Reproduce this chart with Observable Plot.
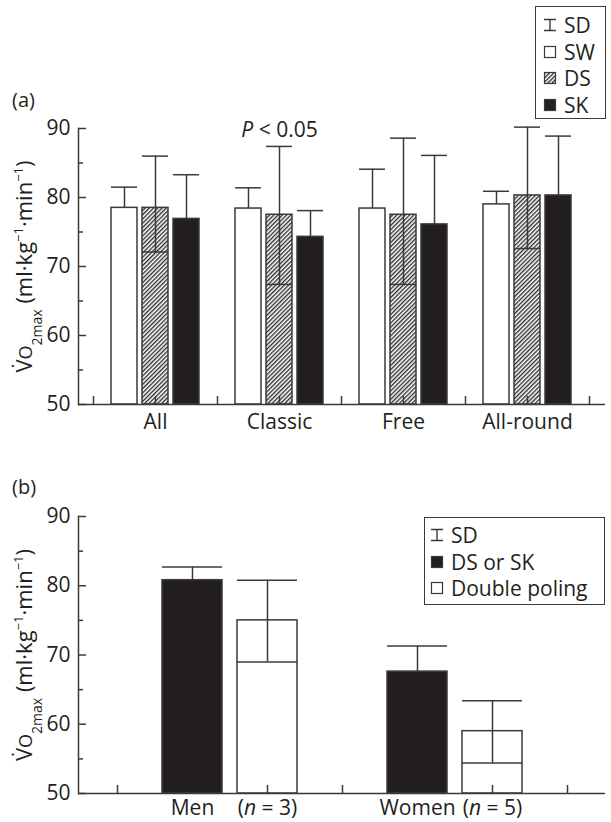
<!DOCTYPE html>
<html><head><meta charset="utf-8">
<script src="https://cdn.jsdelivr.net/npm/d3@7"></script>
<script src="https://cdn.jsdelivr.net/npm/@observablehq/plot@0.6"></script>
<style>
body{margin:0;background:#fff;}
#wrap{position:relative;width:611px;height:822px;font-family:"Open Sans",sans-serif;color:#231f20;}
.abs{position:absolute;}
.plabel{position:absolute;font-size:20px;line-height:24px;}
.legend{position:absolute;box-sizing:border-box;border:1.5px solid #3a3a3a;background:#fff;font-size:21px;}
.legend .item{position:absolute;left:0;display:flex;align-items:center;height:26px;line-height:26px;white-space:nowrap;}
.legend .sym{display:inline-block;width:16px;height:14px;margin-right:6px;}
</style></head><body>
<svg width="0" height="0" style="position:absolute">
  <defs>
    <pattern id="hatch" patternUnits="userSpaceOnUse" width="3" height="3" patternTransform="rotate(45)">
      <rect width="3" height="3" fill="#fff"/>
      <line x1="0.7" y1="0" x2="0.7" y2="3" stroke="#231f20" stroke-width="1.3"/>
    </pattern>
  </defs>
</svg>
<div id="wrap">
  <div id="chartA" class="abs" style="left:0;top:0"></div>
  <div id="chartB" class="abs" style="left:0;top:450px"></div>
  <div class="plabel" style="left:12px;top:88px">(a)</div>
  <div class="plabel" style="left:12px;top:475px">(b)</div>
  <div class="legend" id="legA" style="left:535px;top:6px;width:71px;height:113px"></div>
  <div class="legend" id="legB" style="left:424px;top:517px;width:181px;height:88px"></div>
</div>
<script>
// ---------- Data: panel (a) ----------
const groupsA = ["All", "Classic", "Free", "All-round"];
const seriesA = ["SW", "DS", "SK"];
const swMean  = [78.5, 78.4, 78.4, 79.0];
const swUpper = [81.5, 81.4, 84.1, 80.9];
const dsMean  = [78.5, 77.5, 77.5, 80.3];
const dsUpper = [86.0, 87.4, 88.6, 90.2];
const dsLower = [72.1, 67.4, 67.4, 72.6];
const skMean  = [76.9, 74.3, 76.1, 80.3];
const skUpper = [83.3, 78.1, 86.1, 88.9];
const yTicks = [50, 60, 70, 80, 90];
const yMinorTicks = [55, 65, 75, 85];
const annotA = [{group: "Classic", series: "DS", y: 90, text: "P < 0.05"}];

// ---------- Data: panel (b) ----------
const groupsB = ["Men", "Women"];
const seriesB = ["DS or SK", "Double poling"];
const nLabelsB = ["(n = 3)", "(n = 5)"];
const dsskMeanB  = [80.8, 67.6];
const dsskUpperB = [82.7, 71.3];
const dpMeanB  = [75.0, 59.0];
const dpUpperB = [80.8, 63.4];
const dpLowerB = [69.0, 54.4];

// ---------- build tables ----------
const key = (g, s) => g + "|" + s;
const meansA = {SW: swMean, DS: dsMean, SK: skMean};
const uppersA = {SW: swUpper, DS: dsUpper, SK: skUpper};
const lowersA = {DS: dsLower};
const rowsA = [];
groupsA.forEach((g, i) => seriesA.forEach(s => rowsA.push({
  group: g, series: s, key: key(g, s),
  mean: meansA[s][i], upper: uppersA[s][i], lower: lowersA[s] ? lowersA[s][i] : null
})));
const domainA = [];
groupsA.forEach((g, i) => { domainA.push("sep" + i); seriesA.forEach(s => domainA.push(key(g, s))); });
domainA.push("sep" + groupsA.length);
const centerKeysA = groupsA.map(g => key(g, seriesA[1]));
const sepKeysA = domainA.filter(k => k.startsWith("sep"));
const labelOfA = new Map(groupsA.map(g => [key(g, seriesA[1]), g]));

const rowsB = [];
groupsB.forEach((g, i) => {
  rowsB.push({group: g, series: seriesB[0], key: key(g, seriesB[0]), mean: dsskMeanB[i], upper: dsskUpperB[i], lower: null, label: g});
  rowsB.push({group: g, series: seriesB[1], key: key(g, seriesB[1]), mean: dpMeanB[i], upper: dpUpperB[i], lower: dpLowerB[i], label: nLabelsB[i]});
});
const domainB = [];
groupsB.forEach((g, i) => { domainB.push("sep" + i); seriesB.forEach(s => domainB.push(key(g, s))); });
domainB.push("sep" + groupsB.length);
const sepKeysB = domainB.filter(k => k.startsWith("sep"));
const dpKeysB = groupsB.map(g => key(g, seriesB[1]));
const labelOfB = new Map(rowsB.map(d => [d.key, d.label]));

const INK = "#231f20", LINE = "#3a3a3a";
const fillA = {SW: "#fff", DS: "url(#hatch)", SK: INK};
const fillB = {"DS or SK": INK, "Double poling": "#fff"};

function errorMarks(rows) {
  const low = rows.filter(d => d.lower != null);
  return [
    Plot.ruleX(rows, {x: "key", y1: "mean", y2: "upper", stroke: LINE, strokeWidth: 1.5}),
    Plot.tickY(rows, {x: "key", y: "upper", stroke: LINE, strokeWidth: 1.5}),
    Plot.ruleX(low, {x: "key", y1: "lower", y2: "mean", stroke: LINE, strokeWidth: 1.5}),
    Plot.tickY(low, {x: "key", y: "lower", stroke: LINE, strokeWidth: 1.5})
  ];
}
const yLabel = "V̇O2max (ml·kg−1·min−1)";
function yAxes() {
  return [
    Plot.axisY({ticks: yTicks, tickSize: 8, insetLeft: 8, tickPadding: 8, stroke: LINE, strokeWidth: 1.5,
      label: yLabel, labelAnchor: "center", labelArrow: "none", labelOffset: 62}),
    Plot.axisY({ticks: yMinorTicks, tickSize: 5, insetLeft: 5, tickFormat: () => "", stroke: LINE, strokeWidth: 1.5, label: null}),
    Plot.frame({anchor: "left", stroke: LINE, strokeWidth: 1.5}),
    Plot.ruleY([50], {stroke: LINE, strokeWidth: 1.5})
  ];
}

const chartA = Plot.plot({
  width: 611, height: 450,
  marginTop: 128, marginBottom: 46, marginLeft: 78, marginRight: 6,
  style: {fontFamily: "Open Sans", fontSize: "21px", color: INK, background: "transparent", overflow: "visible"},
  x: {type: "band", domain: domainA, paddingInner: 0.161, paddingOuter: 0.08},
  y: {domain: [50, 90]},
  marks: [
    ...seriesA.map(s => Plot.barY(rowsA.filter(d => d.series === s), {x: "key", y1: 50, y2: "mean", fill: fillA[s], stroke: LINE, strokeWidth: 1.5})),
    ...errorMarks(rowsA),
    ...yAxes(),
    Plot.axisX({ticks: sepKeysA.concat(centerKeysA), tickSize: 8, insetBottom: 8, tickPadding: 10, stroke: LINE, strokeWidth: 1.5,
      tickFormat: k => labelOfA.get(k) ?? "", label: null}),
    Plot.text(annotA, {x: d => key(d.group, d.series), y: "y", text: "text", fill: INK, fontSize: 21, lineAnchor: "middle", dy: 2})
  ]
});
document.getElementById("chartA").appendChild(chartA);

const chartB = Plot.plot({
  width: 611, height: 372,
  marginTop: 66, marginBottom: 29, marginLeft: 78, marginRight: 6,
  style: {fontFamily: "Open Sans", fontSize: "21px", color: INK, background: "transparent", overflow: "visible"},
  x: {type: "band", domain: domainB, paddingInner: 0.2, paddingOuter: 0.093},
  y: {domain: [50, 90]},
  marks: [
    ...seriesB.map(s => Plot.barY(rowsB.filter(d => d.series === s), {x: "key", y1: 50, y2: "mean", fill: fillB[s], stroke: LINE, strokeWidth: 1.5})),
    ...errorMarks(rowsB),
    ...yAxes(),
    Plot.axisX({ticks: sepKeysB.concat(dpKeysB), tickSize: 8, insetBottom: 8, tickFormat: () => "", stroke: LINE, strokeWidth: 1.5, label: null}),
    Plot.axisX({ticks: rowsB.map(d => d.key), tickSize: 0, tickPadding: 7, tickFormat: k => labelOfB.get(k) ?? "", label: null})
  ]
});
document.getElementById("chartB").appendChild(chartB);

// ---------- rich text post-processing ----------
const SVGNS = "http://www.w3.org/2000/svg";
function rich(el, parts) {
  while (el.firstChild) el.removeChild(el.firstChild);
  for (const p of parts) {
    const ts = document.createElementNS(SVGNS, "tspan");
    ts.textContent = p.t;
    if (p.i) ts.setAttribute("font-style", "italic");
    if (p.b) ts.setAttribute("baseline-shift", p.b);
    if (p.s) ts.setAttribute("font-size", p.s);
    el.appendChild(ts);
  }
}
for (const svg of [chartA, chartB]) {
  svg.querySelectorAll("text").forEach(t => {
    const s = t.textContent;
    if (s.includes("(ml·kg")) {
      t.setAttribute("font-size", "22px");
      rich(t, [{t: "V̇"}, {t: "O", s: "18px"}, {t: "2max", b: "sub", s: "14px"}, {t: " (ml·kg"}, {t: "−1", b: "super", s: "13px"}, {t: "·min"}, {t: "−1", b: "super", s: "13px"}, {t: ")"}]);
    } else if (s.startsWith("P < ")) {
      rich(t, [{t: "P", i: true}, {t: s.slice(1)}]);
    } else if (s.startsWith("(n ")) {
      rich(t, [{t: "("}, {t: "n", i: true}, {t: s.slice(2)}]);
    }
  });
}

// ---------- legends ----------
function symSD() {
  return `<svg class="sym" viewBox="0 0 16 14"><path d="M2,1.5H14M8,1.5V12.5M2,12.5H14" stroke="${LINE}" stroke-width="1.4" fill="none"/></svg>`;
}
function symBox(fill) {
  return `<svg class="sym" viewBox="0 0 16 14"><rect x="2.5" y="1.5" width="11" height="11" fill="${fill}" stroke="${LINE}" stroke-width="1.2"/></svg>`;
}
const legendA = [{sym: symSD(), label: "SD"}].concat(seriesA.map(s => ({sym: symBox(fillA[s]), label: s})));
const legendB = [{sym: symSD(), label: "SD"}].concat(seriesB.map(s => ({sym: symBox(fillB[s]), label: s})));
function buildLegend(id, items, top0, step, left) {
  const el = document.getElementById(id);
  items.forEach((it, i) => {
    const d = document.createElement("div");
    d.className = "item";
    d.style.top = (top0 + i * step) + "px";
    d.style.left = left + "px";
    d.innerHTML = it.sym + "<span>" + it.label + "</span>";
    el.appendChild(d);
  });
}
buildLegend("legA", legendA, 5, 26.5, 6);
buildLegend("legB", legendB, 4, 26.5, 4);
</script>
</body></html>
